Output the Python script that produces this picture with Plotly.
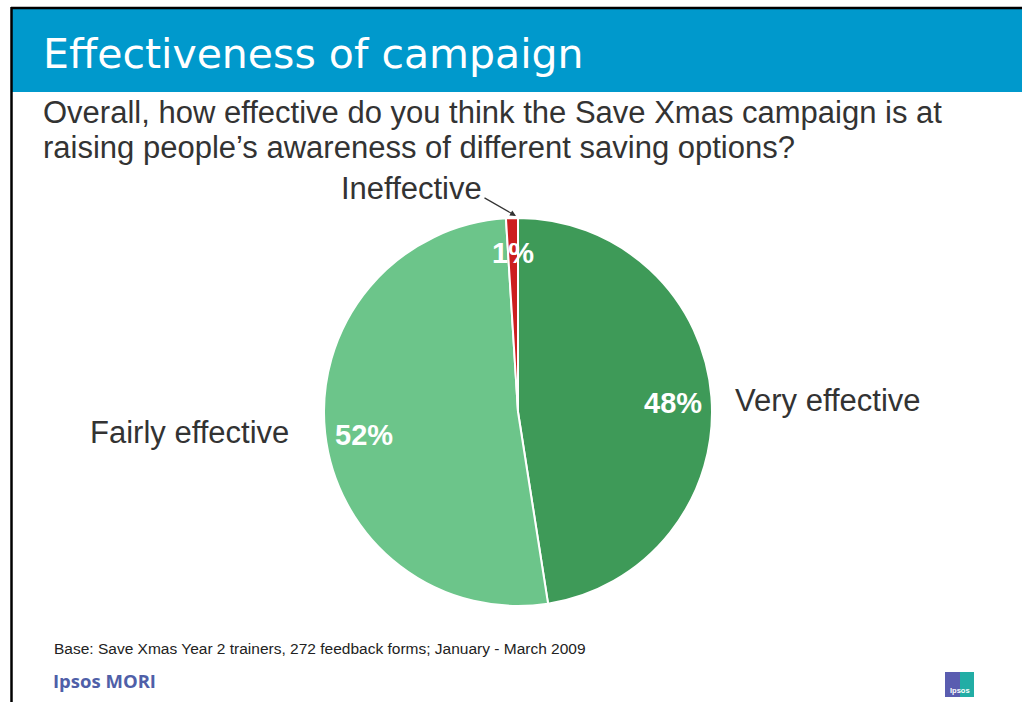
import plotly.graph_objects as go

W, H = 1022, 702

# Survey responses
categories = ["Very effective", "Fairly effective", "Ineffective"]
values = [48, 52, 1]
colors = ["#3E9A58", "#6CC58A", "#CC1F1F"]

title = "Effectiveness of campaign"
question_lines = ["Overall, how effective do you think the Save Xmas campaign is at",
                  "raising people\u2019s awareness of different saving options?"]
base_note = "Base: Save Xmas Year 2 trainers, 272 feedback forms; January - March 2009"


def px(x):
    return x / W


def py(y):
    return 1 - y / H


# pie geometry in pixels
cx, cy, r = 518, 412, 194

fig = go.Figure(go.Pie(
    labels=categories,
    values=values,
    sort=False,
    direction="clockwise",
    rotation=0,
    marker=dict(colors=colors, line=dict(color="white", width=2)),
    textinfo="none",
    hoverinfo="label+percent",
    showlegend=False,
    domain=dict(x=[px(cx - r), px(cx + r)], y=[py(cy + r), py(cy - r)]),
))

shapes = [
    # header band
    dict(type="rect", xref="paper", yref="paper", x0=px(12), x1=1, y0=py(92), y1=py(8),
         fillcolor="#0099CC", line=dict(width=0), layer="below"),
    # frame lines
    dict(type="line", xref="paper", yref="paper", x0=px(11), x1=1, y0=py(8), y1=py(8),
         line=dict(color="black", width=2.5)),
    dict(type="line", xref="paper", yref="paper", x0=px(11.5), x1=px(11.5), y0=py(7), y1=0,
         line=dict(color="black", width=2.5)),
    # logo block
    dict(type="rect", xref="paper", yref="paper", x0=px(945), x1=px(960), y0=py(697), y1=py(672),
         fillcolor="#5A5DB0", line=dict(width=0)),
    dict(type="rect", xref="paper", yref="paper", x0=px(960), x1=px(974), y0=py(697), y1=py(672),
         fillcolor="#22ADA5", line=dict(width=0)),
]

text_col = "#333333"
label_font = dict(family="Liberation Sans", size=31, color=text_col)
pct_font = dict(family="Liberation Sans", size=29, color="white", weight="bold")

annotations = [
    dict(text=title, x=px(41), y=py(54), xanchor="left", yanchor="middle", showarrow=False,
         font=dict(family="DejaVu Sans", size=41, color="white")),
    dict(text=question_lines[0], x=px(41), y=py(113), xanchor="left", yanchor="middle",
         showarrow=False, font=dict(family="Liberation Sans", size=31, color=text_col)),
    dict(text=question_lines[1], x=px(41), y=py(147), xanchor="left", yanchor="middle",
         showarrow=False, font=dict(family="Liberation Sans", size=31, color=text_col)),
    dict(text=categories[0], x=px(733), y=py(400), xanchor="left", yanchor="middle",
         showarrow=False, font=label_font),
    dict(text=categories[1], x=px(291), y=py(433), xanchor="right", yanchor="middle",
         showarrow=False, font=label_font),
    dict(text=categories[2], x=px(411), y=py(189), xanchor="center", yanchor="middle",
         showarrow=False, font=label_font),
    # pointer to the thin slice
    dict(text="", x=px(516), y=py(216), ax=-33, ay=-19, xref="paper", yref="paper",
         showarrow=True, arrowhead=2, arrowsize=1, arrowwidth=1.2, arrowcolor=text_col),
    dict(text=f"{values[0]}%", x=px(673), y=py(403), showarrow=False, font=pct_font),
    dict(text=f"{values[1]}%", x=px(364), y=py(435), showarrow=False, font=pct_font),
    dict(text=f"{values[2]}%", x=px(513), y=py(253), showarrow=False, font=pct_font),
    dict(text=base_note, x=px(52), y=py(648), xanchor="left", yanchor="middle", showarrow=False,
         font=dict(family="Liberation Sans", size=15.5, color="#222222")),
    dict(text="<b>Ipsos MORI</b>", x=px(51), y=py(680), xanchor="left", yanchor="middle",
         showarrow=False, font=dict(family="Open Sans", size=18.5, color="#4F5FA8")),
    dict(text="Ipsos", x=px(959.5), y=py(690), xanchor="center", yanchor="middle", showarrow=False,
         font=dict(family="Liberation Sans", size=7.5, color="white", weight="bold")),
]

fig.update_layout(
    width=W, height=H,
    margin=dict(l=0, r=0, t=0, b=0),
    paper_bgcolor="white",
    plot_bgcolor="white",
    shapes=shapes,
    annotations=annotations,
)

fig.write_html("out.html")
